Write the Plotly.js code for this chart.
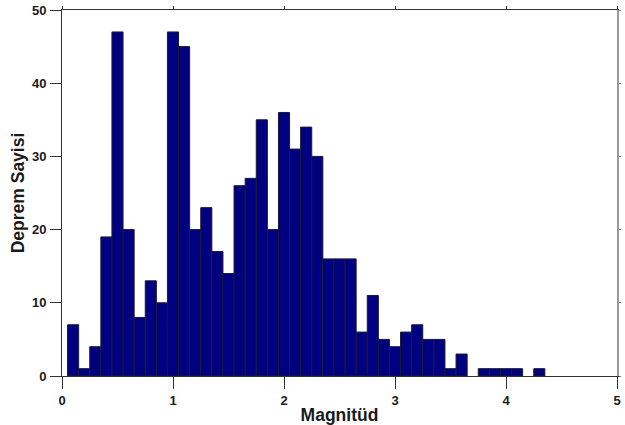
<!DOCTYPE html>
<html>
<head>
<meta charset="utf-8">
<script src="https://cdn.plot.ly/plotly-3.0.1.min.js"></script>
<style>html,body{margin:0;padding:0;background:#fff}#chart{width:625px;height:425px}</style>
</head>
<body>
<div id="chart"></div>
<script>
// Bin centres (magnitude) and earthquake counts per bin
const magnitudes = [0.1,0.2,0.3,0.4,0.5,0.6,0.7,0.8,0.9,1.0,1.1,1.2,1.3,1.4,1.5,1.6,1.7,1.8,1.9,2.0,2.1,2.2,2.3,2.4,2.5,2.6,2.7,2.8,2.9,3.0,3.1,3.2,3.3,3.4,3.5,3.6,3.7,3.8,3.9,4.0,4.1,4.2,4.3];
const counts     = [7,1,4,19,47,20,8,13,10,47,45,20,23,17,14,26,27,35,20,36,31,34,30,16,16,16,6,11,5,4,6,7,5,5,1,3,0,1,1,1,1,0,1];
const xTicks = [0,1,2,3,4,5];
const yTicks = [0,10,20,30,40,50];
const xTitle = "Magnitüd";
const yTitle = "Deprem Sayisi";

const tickFont = {family: "Liberation Sans, Arial, sans-serif", size: 13, color: "#1a1a1a", weight: "bold"};
const titleFont = {family: "Liberation Sans, Arial, sans-serif", size: 17.5, color: "#1a1a1a", weight: "bold"};

const data = [
  {
    type: "bar",
    x: magnitudes,
    y: counts,
    width: 0.1,
    marker: {color: "#000080", line: {color: "#1a1a33", width: counts.map(c => c > 0 ? 1 : 0)}},
    hoverinfo: "x+y"
  },
  {
    type: "scatter", mode: "none", x: [], y: [],
    xaxis: "x2", yaxis: "y2", showlegend: false, hoverinfo: "skip"
  }
];

const layout = {
  width: 625, height: 425,
  margin: {l: 62, r: 8, t: 10, b: 49},
  paper_bgcolor: "#fff", plot_bgcolor: "#fff",
  showlegend: false,
  bargap: 0,
  xaxis: {
    range: [0, 5], tickvals: xTicks, ticktext: xTicks.map(String),
    ticks: "outside", ticklen: 12, tickcolor: "#333", tickwidth: 1,
    showline: true, linecolor: "#333", linewidth: 1,
    showgrid: false, zeroline: false,
    tickfont: tickFont,
    title: {text: xTitle, font: titleFont, standoff: 2}
  },
  yaxis: {
    range: [0, 50], tickvals: yTicks, ticktext: yTicks.map(String),
    ticks: "outside", ticklen: 11, tickcolor: "#333", tickwidth: 1,
    showline: true, linecolor: "#333", linewidth: 1,
    showgrid: false, zeroline: false,
    tickfont: tickFont,
    ticklabelstandoff: 1,
    title: {text: yTitle, font: titleFont, standoff: 2}
  },
  xaxis2: {
    overlaying: "x", side: "top", anchor: "y2", range: [0, 5],
    tickvals: xTicks, showticklabels: false,
    ticks: "outside", ticklen: 3, tickcolor: "#333",
    showline: true, linecolor: "#333", linewidth: 1,
    showgrid: false, zeroline: false
  },
  yaxis2: {
    overlaying: "y", side: "right", anchor: "x2", range: [0, 50],
    tickvals: yTicks, showticklabels: false,
    ticks: "outside", ticklen: 2, tickcolor: "#777",
    showline: true, linecolor: "#999", linewidth: 2,
    showgrid: false, zeroline: false
  }
};

Plotly.newPlot("chart", data, layout, {staticPlot: true});
</script>
</body>
</html>
